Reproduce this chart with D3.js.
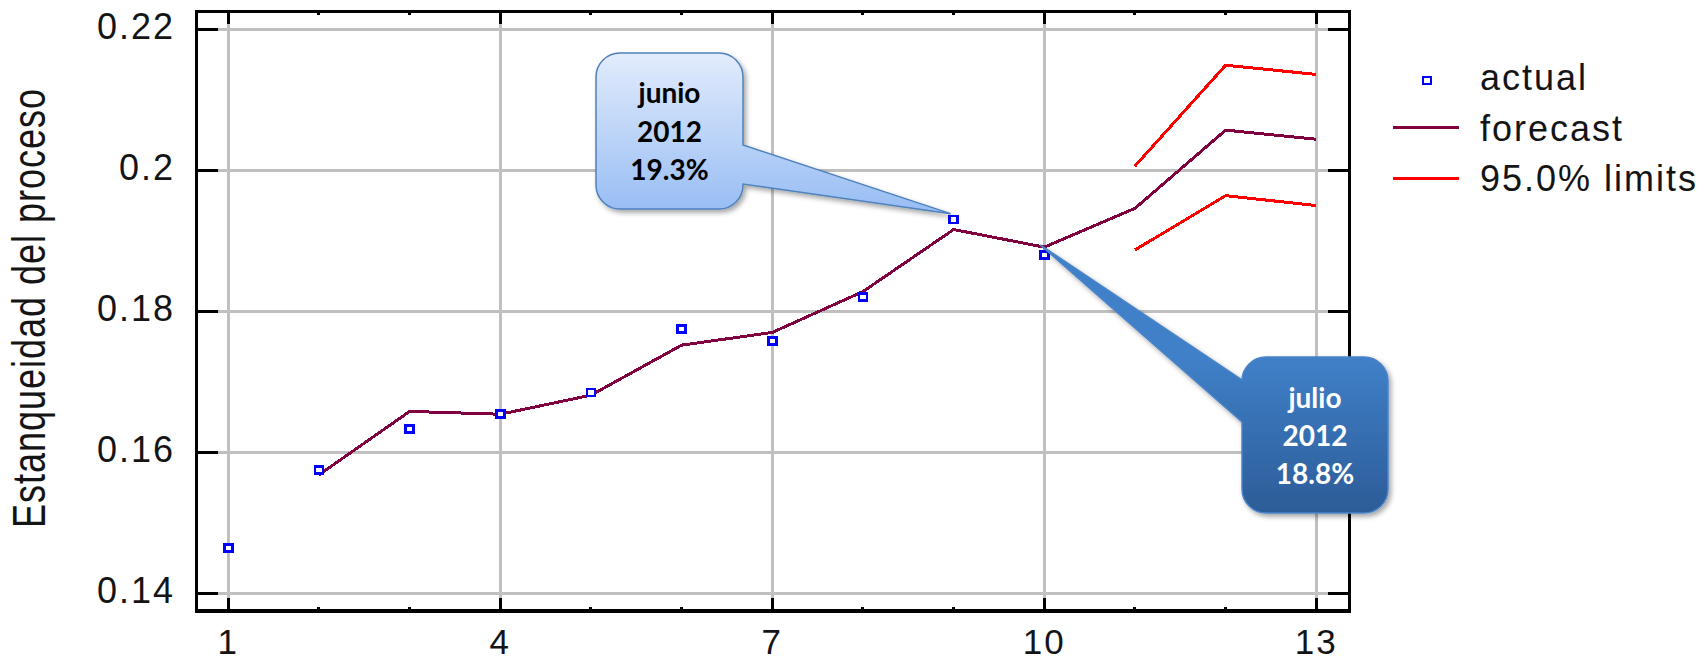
<!DOCTYPE html>
<html>
<head>
<meta charset="utf-8">
<script src="https://cdn.jsdelivr.net/npm/d3@7"></script>
<style>
  html, body { margin: 0; padding: 0; background: #ffffff; }
  svg { display: block; }
</style>
</head>
<body>
<script>
// Period numbers and values of the process
const actualPeriods = [1, 2, 3, 4, 5, 6, 7, 8, 9, 10];
const actualValues = [0.1464, 0.1575, 0.1633, 0.1654, 0.1685, 0.1775, 0.1758, 0.1820, 0.193, 0.188];

const forecastPeriods = [2, 3, 4, 5, 6, 7, 8, 9, 10, 11, 12, 13];
const forecastValues = [0.1568, 0.1658, 0.1654, 0.1681, 0.1752, 0.1770, 0.1828, 0.1916, 0.1891, 0.1946, 0.2057, 0.2044];

const limitPeriods = [11, 12, 13];
const upperLimit = [0.2006, 0.2149, 0.2136];
const lowerLimit = [0.1887, 0.1964, 0.1950];

const xTickValues = [1, 4, 7, 10, 13];
const xMinorTicks = [1, 2, 3, 4, 5, 6, 7, 8, 9, 10, 11, 12, 13];
const yTickValues = [0.14, 0.16, 0.18, 0.2, 0.22];
const yTickLabels = ["0.14", "0.16", "0.18", "0.2", "0.22"];

const legendLabels = ["actual", "forecast", "95.0% limits"];
const yTitle = "Estanqueidad del proceso";

// Callout notes: period, value, text lines
const calloutJunio = { period: 9, value: 0.193, lines: ["junio", "2012", "19.3%"] };
const calloutJulio = { period: 10, value: 0.188, lines: ["julio", "2012", "18.8%"] };

const W = 1707, H = 662;
const frame = { left: 196.7, right: 1349.3, top: 11.7, bottom: 611 };

const x = d3.scaleLinear().domain([1, 13]).range([228.3, 1316.3]);
const y = d3.scaleLinear().domain([0.14, 0.22]).range([593.3, 29.3]);

const svg = d3.select("body").append("svg")
  .attr("width", W).attr("height", H)
  .attr("viewBox", `0 0 ${W} ${H}`);

const defs = svg.append("defs");
const shadow = defs.append("filter").attr("id", "shadow")
  .attr("x", "-20%").attr("y", "-20%").attr("width", "150%").attr("height", "150%");
shadow.append("feDropShadow").attr("dx", 2.5).attr("dy", 3).attr("stdDeviation", 2.5)
  .attr("flood-color", "#000").attr("flood-opacity", 0.35);

function vGrad(id, y0, y1, c0, c1) {
  const g = defs.append("linearGradient").attr("id", id)
    .attr("gradientUnits", "userSpaceOnUse")
    .attr("x1", 0).attr("x2", 0).attr("y1", y0).attr("y2", y1);
  g.append("stop").attr("offset", 0).attr("stop-color", c0);
  g.append("stop").attr("offset", 1).attr("stop-color", c1);
}

const fontAxis = "'Liberation Sans', Arial, sans-serif";
const textColor = "#141414";

// Grid lines
const grid = svg.append("g").attr("shape-rendering", "crispEdges")
  .attr("stroke", "#c0c0c0").attr("stroke-width", 3);
grid.selectAll("line.h").data(yTickValues).join("line")
  .attr("x1", frame.left).attr("x2", frame.right)
  .attr("y1", d => y(d)).attr("y2", d => y(d));
grid.selectAll("line.v").data(xTickValues).join("line")
  .attr("y1", frame.top).attr("y2", frame.bottom)
  .attr("x1", d => x(d)).attr("x2", d => x(d));

// Frame and inward ticks
const axisG = svg.append("g").attr("shape-rendering", "crispEdges")
  .attr("stroke", "#000").attr("stroke-width", 3);
axisG.append("rect")
  .attr("x", frame.left).attr("y", frame.top)
  .attr("width", frame.right - frame.left).attr("height", frame.bottom - frame.top)
  .attr("fill", "none").attr("stroke-width", 3.5);
axisG.selectAll("line.yl").data(yTickValues).join("line")
  .attr("x1", frame.left).attr("x2", frame.left + 21)
  .attr("y1", d => y(d)).attr("y2", d => y(d));
axisG.selectAll("line.yr").data(yTickValues).join("line")
  .attr("x1", frame.right - 21).attr("x2", frame.right)
  .attr("y1", d => y(d)).attr("y2", d => y(d));
axisG.selectAll("line.xb").data(xMinorTicks).join("line")
  .attr("x1", d => x(d)).attr("x2", d => x(d))
  .attr("y1", frame.bottom)
  .attr("y2", d => frame.bottom - (xTickValues.includes(d) ? 13 : 4));
axisG.selectAll("line.xt").data(xMinorTicks).join("line")
  .attr("x1", d => x(d)).attr("x2", d => x(d))
  .attr("y1", frame.top)
  .attr("y2", d => frame.top + (xTickValues.includes(d) ? 12 : 3));

// Tick labels
svg.append("g").selectAll("text").data(yTickValues).join("text")
  .attr("x", 175).attr("y", d => y(d) + 10)
  .attr("text-anchor", "end")
  .attr("font-family", fontAxis).attr("font-size", 36)
  .attr("letter-spacing", 2).attr("fill", textColor)
  .text((d, i) => yTickLabels[i]);

svg.append("g").selectAll("text").data(xTickValues).join("text")
  .attr("x", d => x(d)).attr("y", 654)
  .attr("text-anchor", "middle")
  .attr("font-family", fontAxis).attr("font-size", 35)
  .attr("letter-spacing", 2).attr("fill", textColor)
  .text(d => String(d));

// Axis title
svg.append("text")
  .attr("transform", "translate(45,308) scale(1.28,1) rotate(-90)")
  .attr("text-anchor", "middle")
  .attr("font-family", fontAxis).attr("font-size", 36)
  .attr("letter-spacing", 1).attr("fill", textColor)
  .text(yTitle);

// Series lines
const line = d3.line().x(d => x(d[0])).y(d => y(d[1]));
const series = svg.append("g").attr("fill", "none")
  .attr("stroke-width", 3).attr("shape-rendering", "crispEdges");
series.append("path")
  .attr("d", line(d3.zip(limitPeriods, upperLimit))).attr("stroke", "#ff0000");
series.append("path")
  .attr("d", line(d3.zip(limitPeriods, lowerLimit))).attr("stroke", "#ff0000");
series.append("path")
  .attr("d", line(d3.zip(forecastPeriods, forecastValues))).attr("stroke", "#800040");

// Actual observations
svg.append("g").selectAll("rect").data(d3.zip(actualPeriods, actualValues)).join("rect")
  .attr("x", d => x(d[0]) - 4).attr("y", d => y(d[1]) - 3.5)
  .attr("width", 8).attr("height", 7)
  .attr("fill", "#ffffff").attr("stroke", "#0000ff").attr("stroke-width", 2.5)
  .attr("shape-rendering", "crispEdges");

// Legend
const legend = svg.append("g");
legend.append("rect")
  .attr("x", 1423).attr("y", 77).attr("width", 8).attr("height", 7)
  .attr("fill", "#ffffff").attr("stroke", "#0000ff").attr("stroke-width", 2.5)
  .attr("shape-rendering", "crispEdges");
legend.append("line").attr("x1", 1393).attr("x2", 1459).attr("y1", 127.5).attr("y2", 127.5)
  .attr("stroke", "#800040").attr("stroke-width", 3).attr("shape-rendering", "crispEdges");
legend.append("line").attr("x1", 1393).attr("x2", 1459).attr("y1", 178.5).attr("y2", 178.5)
  .attr("stroke", "#ff0000").attr("stroke-width", 3).attr("shape-rendering", "crispEdges");
legend.selectAll("text").data(legendLabels).join("text")
  .attr("x", 1480).attr("y", (d, i) => 90 + i * 50.5)
  .attr("font-family", fontAxis).attr("font-size", 36)
  .attr("letter-spacing", 2).attr("fill", textColor)
  .text(d => d);

// Callout shapes: rounded box with a wedge pointing at a data point
function calloutRight(b, r, p1, p2, tip) {
  return `M${b.x0 + r},${b.y0} H${b.x1 - r} A${r},${r} 0 0 1 ${b.x1},${b.y0 + r}
    V${p1} L${tip[0]},${tip[1]} L${b.x1},${p2}
    V${b.y1 - r} A${r},${r} 0 0 1 ${b.x1 - r},${b.y1} H${b.x0 + r}
    A${r},${r} 0 0 1 ${b.x0},${b.y1 - r} V${b.y0 + r} A${r},${r} 0 0 1 ${b.x0 + r},${b.y0} Z`;
}
function calloutLeft(b, r, p1, p2, tip) {
  return `M${b.x0 + r},${b.y0} H${b.x1 - r} A${r},${r} 0 0 1 ${b.x1},${b.y0 + r}
    V${b.y1 - r} A${r},${r} 0 0 1 ${b.x1 - r},${b.y1} H${b.x0 + r}
    A${r},${r} 0 0 1 ${b.x0},${b.y1 - r} V${p2} L${tip[0]},${tip[1]} L${b.x0},${p1}
    V${b.y0 + r} A${r},${r} 0 0 1 ${b.x0 + r},${b.y0} Z`;
}

const fontNote = "Lato, 'Open Sans', sans-serif";

// junio 2012
const bJ = { x0: 596, y0: 53, x1: 743, y1: 209 };
vGrad("gJunio", bJ.y0, bJ.y1, "#e2ecfc", "#99bef4");
const tipJ = [x(calloutJunio.period) - 3, y(calloutJunio.value) - 6];
svg.append("path")
  .attr("d", calloutRight(bJ, 24, 145, 184, tipJ))
  .attr("fill", "url(#gJunio)").attr("stroke", "#4f81bd").attr("stroke-width", 1.5)
  .attr("filter", "url(#shadow)");
svg.append("g").selectAll("text").data(calloutJunio.lines).join("text")
  .attr("x", (bJ.x0 + bJ.x1) / 2).attr("y", (d, i) => 103 + i * 38.5)
  .attr("text-anchor", "middle")
  .attr("font-family", fontNote).attr("font-weight", 700).attr("font-size", 28)
  .attr("fill", "#000").text(d => d);

// julio 2012
const bL = { x0: 1242, y0: 357, x1: 1388, y1: 513 };
vGrad("gJulio", bL.y0, bL.y1, "#4080c8", "#2c5c98");
const tipL = [x(calloutJulio.period) - 4, y(calloutJulio.value) - 10];
svg.append("path")
  .attr("d", calloutLeft(bL, 24, 380, 422, tipL))
  .attr("fill", "url(#gJulio)").attr("stroke", "#4a84c9").attr("stroke-width", 1.5)
  .attr("filter", "url(#shadow)");
svg.append("g").selectAll("text").data(calloutJulio.lines).join("text")
  .attr("x", (bL.x0 + bL.x1) / 2).attr("y", (d, i) => 408 + i * 38)
  .attr("text-anchor", "middle")
  .attr("font-family", fontNote).attr("font-weight", 700).attr("font-size", 28)
  .attr("fill", "#ffffff").text(d => d);
</script>
</body>
</html>
